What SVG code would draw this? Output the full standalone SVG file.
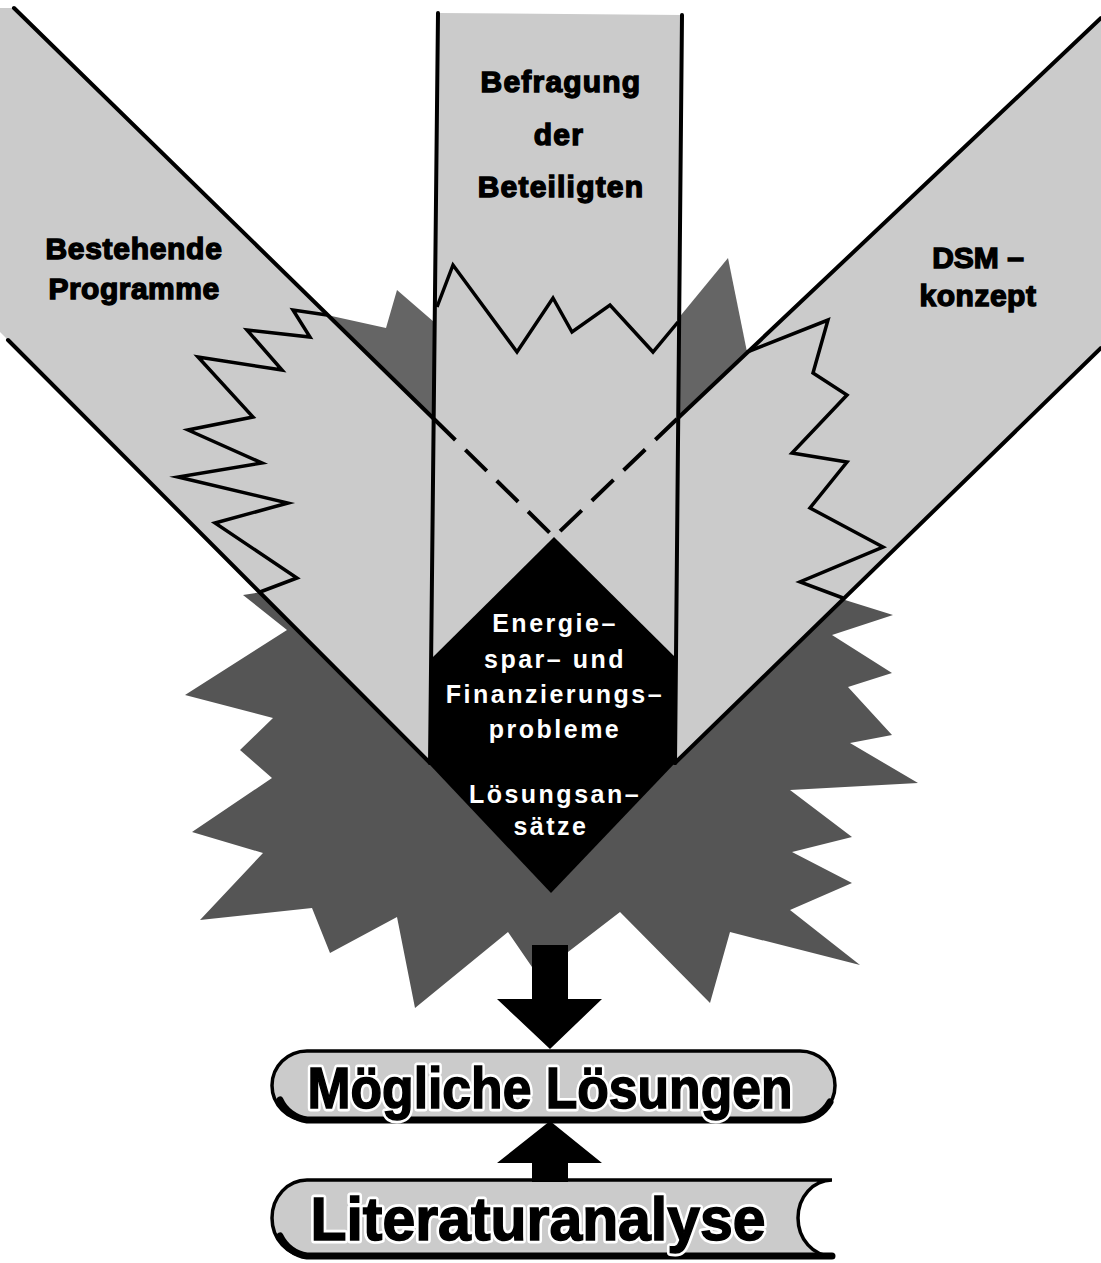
<svg xmlns="http://www.w3.org/2000/svg" width="1101" height="1263" viewBox="0 0 1101 1263">
<style>
.light{fill:#cbcbcb}
.dark{fill:#555555}
.spike{fill:#656565}
.edge{fill:none;stroke:#000;stroke-width:4;stroke-linecap:round}
.zig{fill:none;stroke:#000;stroke-width:3.5;stroke-linejoin:miter;stroke-miterlimit:12}
.dash{fill:none;stroke:#000;stroke-width:4;stroke-dasharray:30 14}
.lbl{font-family:"Liberation Sans",Arial,sans-serif;font-weight:bold;font-size:30px;fill:#000;stroke:#000;stroke-width:1.4;text-anchor:middle}
.core-t{font-family:"Liberation Sans",Arial,sans-serif;font-weight:bold;font-size:25px;fill:#fff;letter-spacing:2.5px;text-anchor:middle}
.halo{font-family:"Liberation Sans",Arial,sans-serif;font-weight:bold;fill:#fff;stroke:#fff;stroke-width:7;stroke-linejoin:round;text-anchor:middle}
.big{font-family:"Liberation Sans",Arial,sans-serif;font-weight:bold;fill:#000;stroke:#000;stroke-width:1.5;text-anchor:middle}
.pill{fill:#cbcbcb;stroke:#000;stroke-width:3.5}
.shadow{fill:none;stroke:#000;stroke-width:7;stroke-linecap:round}
.arrow{fill:#000}
</style>

<!-- dark starburst behind the converging bands -->
<g id="starburst">
  <polygon class="dark" points="262,592 243,595 287,630 185,695 273,718 240,750 272,778 192,832 263,853 200,920 312,908 330,953 397,917 415,1008 508,932 532,967 550,945 568,952 620,912 710,1003 730,932 860,965 790,910 852,883 792,852 852,837 790,790 918,783 850,743 892,735 848,687 892,673 832,635 893,615 845,600"/>
  <polygon class="spike" points="327,315 386,328 397,290 434,322 434,419"/>
  <polygon class="spike" points="677,320 728,258 747,352 677,419"/>
</g>

<!-- left diagonal band -->
<g id="band-left">
  <polygon class="light" points="0,8 14,8 434,419 430,763 8,340 0,332"/>
  <polyline class="zig" points="327,315 293,310 310,337 247,330 282,370 198,357 253,417 188,430 262,463 178,477 288,503 215,523 297,578 260,592"/>
  <path class="edge" d="M14,8 L434,419 M8,340 L430,763"/>
  <text class="lbl" x="134" y="259" letter-spacing="0.7">Bestehende</text>
  <text class="lbl" x="134" y="299" letter-spacing="0.5">Programme</text>
</g>

<!-- right diagonal band -->
<g id="band-right">
  <polygon class="light" points="1101,18 677,419 675,763 1101,348"/>
  <polyline class="zig" points="747,352 828,320 813,373 847,395 792,453 847,462 810,508 883,547 800,582 843,598"/>
  <path class="edge" d="M1101,18 L677,419 M1101,348 L675,763"/>
  <text class="lbl" x="978" y="268">DSM –</text>
  <text class="lbl" x="978" y="306" letter-spacing="0.5">konzept</text>
</g>

<!-- vertical centre band -->
<g id="band-center">
  <polygon class="light" points="438,13 682,15 675,763 430,763"/>
  <polyline class="zig" points="437,307 453,265 517,352 553,298 572,332 610,305 653,352 678,322"/>
  <path class="dash" d="M434,419 L554,537 M677,419 L554,537"/>
  <path class="edge" d="M438,13 L430,763 M682,15 L675,763"/>
  <text class="lbl" x="561" y="92" font-size="28" letter-spacing="1.2">Befragung</text>
  <text class="lbl" x="559" y="145" font-size="28" letter-spacing="1.2">der</text>
  <text class="lbl" x="561" y="197" font-size="28" letter-spacing="1.2">Beteiligten</text>
</g>

<!-- black core where the three bands meet -->
<g id="core">
  <polygon fill="#000" points="554,537 677,659 675,763 551,893 430,765 431,659"/>
  <text class="core-t" x="555" y="632">Energie–</text>
  <text class="core-t" x="555" y="668">spar– und</text>
  <text class="core-t" x="555" y="703">Finanzierungs–</text>
  <text class="core-t" x="555" y="738">probleme</text>
  <text class="core-t" x="555" y="803">Lösungsan–</text>
  <text class="core-t" x="551" y="835">sätze</text>
</g>

<!-- solutions box -->
<g id="solutions">
  <path class="pill" d="M307,1051 H800 A35,34.5 0 0 1 800,1120 H307 A35,34.5 0 0 1 307,1051 Z"/>
  <path class="shadow" d="M280,1100 A35,34.5 0 0 0 307,1120 H800 A35,34.5 0 0 0 830,1102"/>
  <text class="halo" x="550" y="1108" font-size="58" textLength="485" lengthAdjust="spacingAndGlyphs">Mögliche Lösungen</text>
  <text class="big" x="550" y="1108" font-size="58" textLength="485" lengthAdjust="spacingAndGlyphs">Mögliche Lösungen</text>
</g>

<!-- literature scroll with a hollow right end -->
<g id="literature">
  <path class="pill" d="M307,1180 H832 A34,38 0 0 0 832,1256 H307 A35,38 0 0 1 307,1180 Z"/>
  <path class="shadow" d="M280,1236 A35,38 0 0 0 307,1256 H832"/>
  <text class="halo" x="538" y="1240" font-size="62" textLength="455" lengthAdjust="spacingAndGlyphs">Literaturanalyse</text>
  <text class="big" x="538" y="1240" font-size="62" textLength="455" lengthAdjust="spacingAndGlyphs">Literaturanalyse</text>
</g>

<!-- block arrows -->
<g id="connectors">
  <polygon class="arrow" points="532,945 568,945 568,999 602,999 550,1049 497,999 532,999"/>
  <polygon class="arrow" points="550,1121 602,1163 568,1163 568,1182 532,1182 532,1163 497,1163"/>
</g>
</svg>
